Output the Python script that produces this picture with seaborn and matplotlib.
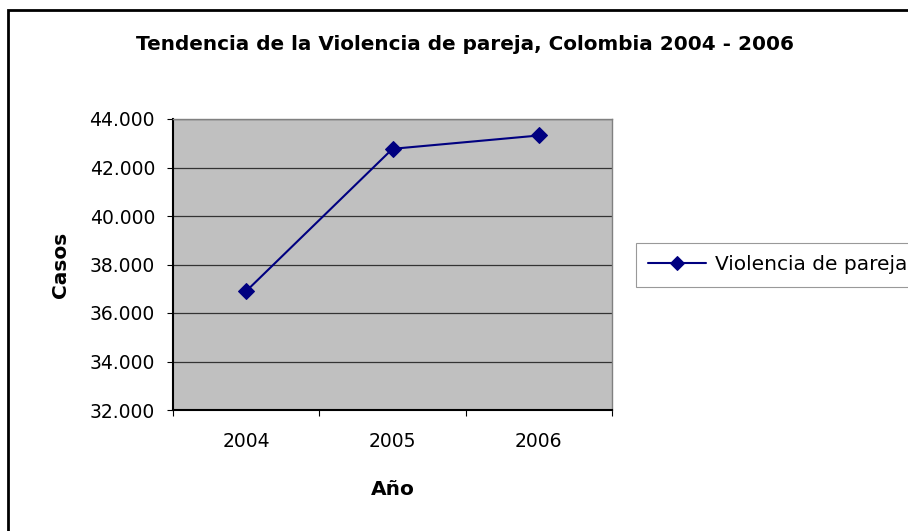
import matplotlib
matplotlib.use("Agg")
import matplotlib.pyplot as plt
import seaborn as sns
import pandas as pd
from matplotlib.patches import Rectangle
from matplotlib.ticker import FuncFormatter, FixedLocator

years = ["2004", "2005", "2006"]
casos = [36900, 42770, 43320]
series_name = "Violencia de pareja"
yticks = [32000, 34000, 36000, 38000, 40000, 42000, 44000]

sns.set_theme(style="white")
plt.rcParams["font.family"] = ["DejaVu Sans"]
plt.rcParams["text.color"] = "black"
plt.rcParams["axes.labelcolor"] = "black"
plt.rcParams["xtick.color"] = "black"
plt.rcParams["ytick.color"] = "black"

df = pd.DataFrame({"pos": range(len(years)), "casos": casos, "serie": series_name})

fig = plt.figure(figsize=(9.08, 5.31), dpi=100)
ax = fig.add_axes([173/908, 1-410/531, (612-173)/908, (410-119)/531])
ax.set_facecolor("#c0c0c0")

sns.lineplot(data=df, x="pos", y="casos", hue="serie", palette=["#000080"],
             marker="D", markersize=8, markeredgecolor="#000080", linewidth=1.5, ax=ax)

ax.set_xlim(-0.5, len(years) - 0.5)
ax.set_ylim(32000, 44000)
ax.set_yticks(yticks)
ax.yaxis.set_major_formatter(FuncFormatter(lambda v, p: f"{int(v):,}".replace(",", ".")))
ax.set_xticks(range(len(years)))
ax.set_xticklabels(years)
ax.xaxis.set_minor_locator(FixedLocator([i - 0.5 for i in range(len(years) + 1)]))
ax.tick_params(axis="x", which="major", length=0, pad=16, labelsize=13.5, colors="black")
ax.tick_params(axis="x", which="minor", length=4, width=0.8, direction="out", color="black", bottom=True)
ax.tick_params(axis="y", which="major", length=4, width=0.8, direction="out", color="black", left=True, labelsize=13.5, pad=9)
ax.grid(axis="y", color="#333333", linewidth=0.9)
ax.set_axisbelow(True)
for side in ["left", "bottom"]:
    ax.spines[side].set_color("black")
    ax.spines[side].set_linewidth(1.5)
for side in ["top", "right"]:
    ax.spines[side].set_color("#808080")
    ax.spines[side].set_linewidth(1.0)

ax.set_xlabel("Año", fontsize=14.5, fontweight="bold", labelpad=21)
ax.set_ylabel("Casos", fontsize=14.5, fontweight="bold", labelpad=14)

leg = ax.legend(loc="center left", bbox_to_anchor=((636-173)/(612-173), (410-265)/(410-119)),
                frameon=True, fontsize=14.5, handlelength=2.9, handletextpad=0.4, borderpad=0.6,
                borderaxespad=0, fancybox=False)
leg.get_frame().set_edgecolor("#808080")
leg.get_frame().set_linewidth(0.8)
for h in leg.legend_handles:
    h.set_markersize(7)

fig.text(465/908, 1-45/531, "Tendencia de la Violencia de pareja, Colombia 2004 - 2006",
         ha="center", va="center", fontsize=14.4, fontweight="bold")

fig.patches.append(Rectangle((8/908, -0.05), 1.0, 1-10/531+0.05, transform=fig.transFigure,
                             fill=False, edgecolor="black", linewidth=2))

fig.savefig("out.png", dpi=100)
